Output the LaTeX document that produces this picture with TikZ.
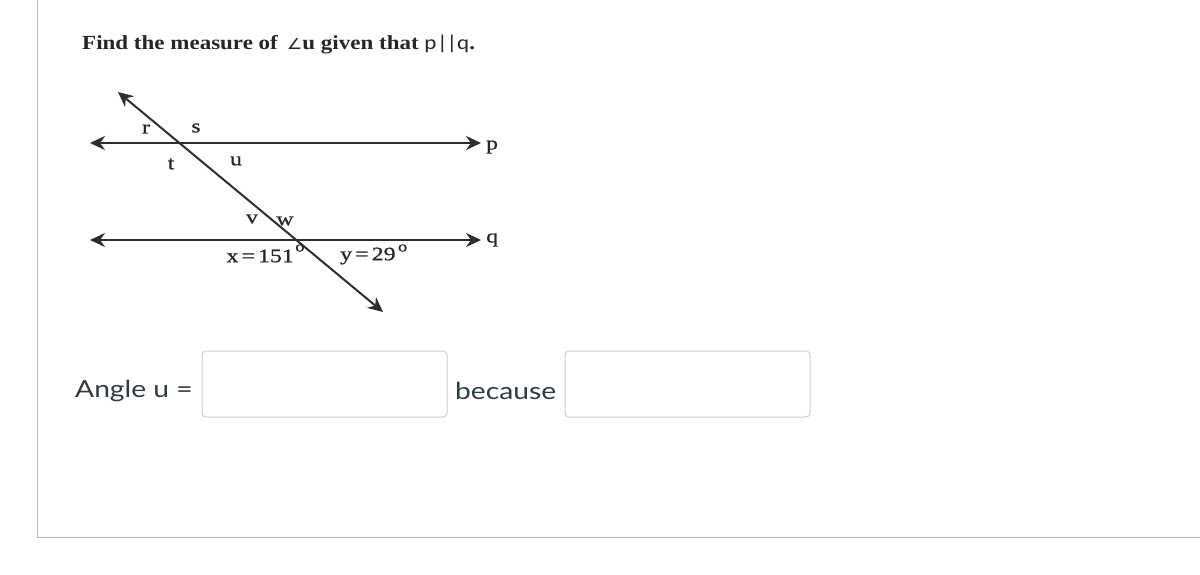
\documentclass[tikz,border=0pt]{standalone}
\usepackage{fontspec}
\setmainfont{Liberation Serif}
\newfontfamily\titlefont[FakeStretch=1.15]{Liberation Serif}
\newfontfamily\lblfont[FakeStretch=1.25,FakeBold=0.8]{Liberation Serif}
\newfontfamily\lato[FakeStretch=1.2]{Lato}
\newfontfamily\djv[FakeStretch=1.15]{DejaVu Sans}
\newfontfamily\carl[FakeStretch=1.15]{Carlito}
\usetikzlibrary{arrows.meta}
\definecolor{frame}{HTML}{B8B8B8}
\definecolor{canvas}{HTML}{2D3B45}
\definecolor{boxline}{HTML}{C7CDD1}
\definecolor{lineink}{HTML}{2E2E2E}
\tikzset{
  geoline/.style={draw=lineink, line width=2.5pt, {Stealth[length=15pt,width=14pt,inset=5pt]}-{Stealth[length=15pt,width=14pt,inset=5pt]}},
  trans/.style={draw=lineink, line width=2pt, {Stealth[length=15pt,width=14pt,inset=5pt]}-{Stealth[length=15pt,width=14pt,inset=5pt]}},
  lbl/.style={font=\lblfont\fontsize{19}{21}\selectfont, text=black!85, inner sep=0pt},
  deg/.style={font=\lblfont\fontsize{15}{16}\selectfont, text=black!85, inner sep=0pt},
  ansbox/.style={draw=boxline, line width=1pt, rounded corners=4pt, fill=white, minimum width=245pt, minimum height=66pt, inner sep=0pt},
  cvtext/.style={font=\lato\fontsize{23.5}{26}\selectfont, text=canvas, inner sep=0pt}
}
\begin{document}
\begin{tikzpicture}[x=1pt,y=-1pt]
\useasboundingbox (0,0) rectangle (1200,575);
\fill[white] (0,0) rectangle (1200,575);
% frame
\coordinate (ftop) at (37.5,0);
\coordinate (fcorner) at (37.5,537);
\coordinate (fright) at (1200,537);
\draw[frame, line width=1pt] (ftop) -- (fcorner) -- (fright);
% title
\node[anchor=base west, inner sep=0pt, font=\titlefont\bfseries\fontsize{20}{22}\selectfont, text=black!85] (title) at (82,50)
  {Find the measure of \,{\djv\mdseries\fontsize{15}{16}\selectfont ∠}u given that {\carl\mdseries p\kern0.5pt|\kern-1pt|q}.};
% lines
\coordinate (pL) at (90,143);
\coordinate (pR) at (481,143);
\coordinate (qL) at (90,240);
\coordinate (qR) at (481,240);
\coordinate (tA) at (118,92);
\coordinate (tB) at (383,312);
\draw[geoline] (pL) -- (pR);
\draw[geoline] (qL) -- (qR);
\draw[trans] (tA) -- (tB);
\node[lbl, anchor=west] (lp) at (486,147) {p};
\node[lbl, anchor=west] (lq) at (486,240) {q};
\node[lbl] (lr) at (146,129) {r};
\node[lbl] (ls) at (196,128) {s};
\node[lbl] (lt) at (171,164) {t};
\node[lbl] (lu) at (236,161) {u};
\node[lbl] (lv) at (252,219) {v};
\node[lbl] (lw) at (285,221) {w};
\node[lbl, anchor=east] (lx) at (294,256) {x\,=\,151};
\node[deg, anchor=west] (dx) at ([xshift=1pt,yshift=8pt]lx.east) {o};
\node[lbl, anchor=west] (ly) at (340,256) {y\,=\,29};
\node[deg, anchor=west] (dy) at ([xshift=2pt,yshift=8pt]ly.east) {o};
% answer row
\node[cvtext, anchor=west] (angle) at (75,391) {Angle u =};
\node[ansbox] (box1) at (324.5,384) {};
\draw[black!12, line width=1.5pt] ([xshift=3pt,yshift=-1.2pt]box1.north west) -- ([xshift=-3pt,yshift=-1.2pt]box1.north east);
\node[cvtext, anchor=west] (because) at (455,391) {because};
\node[ansbox] (box2) at (687.5,384) {};
\draw[black!12, line width=1.5pt] ([xshift=3pt,yshift=-1.2pt]box2.north west) -- ([xshift=-3pt,yshift=-1.2pt]box2.north east);
\end{tikzpicture}
\end{document}
